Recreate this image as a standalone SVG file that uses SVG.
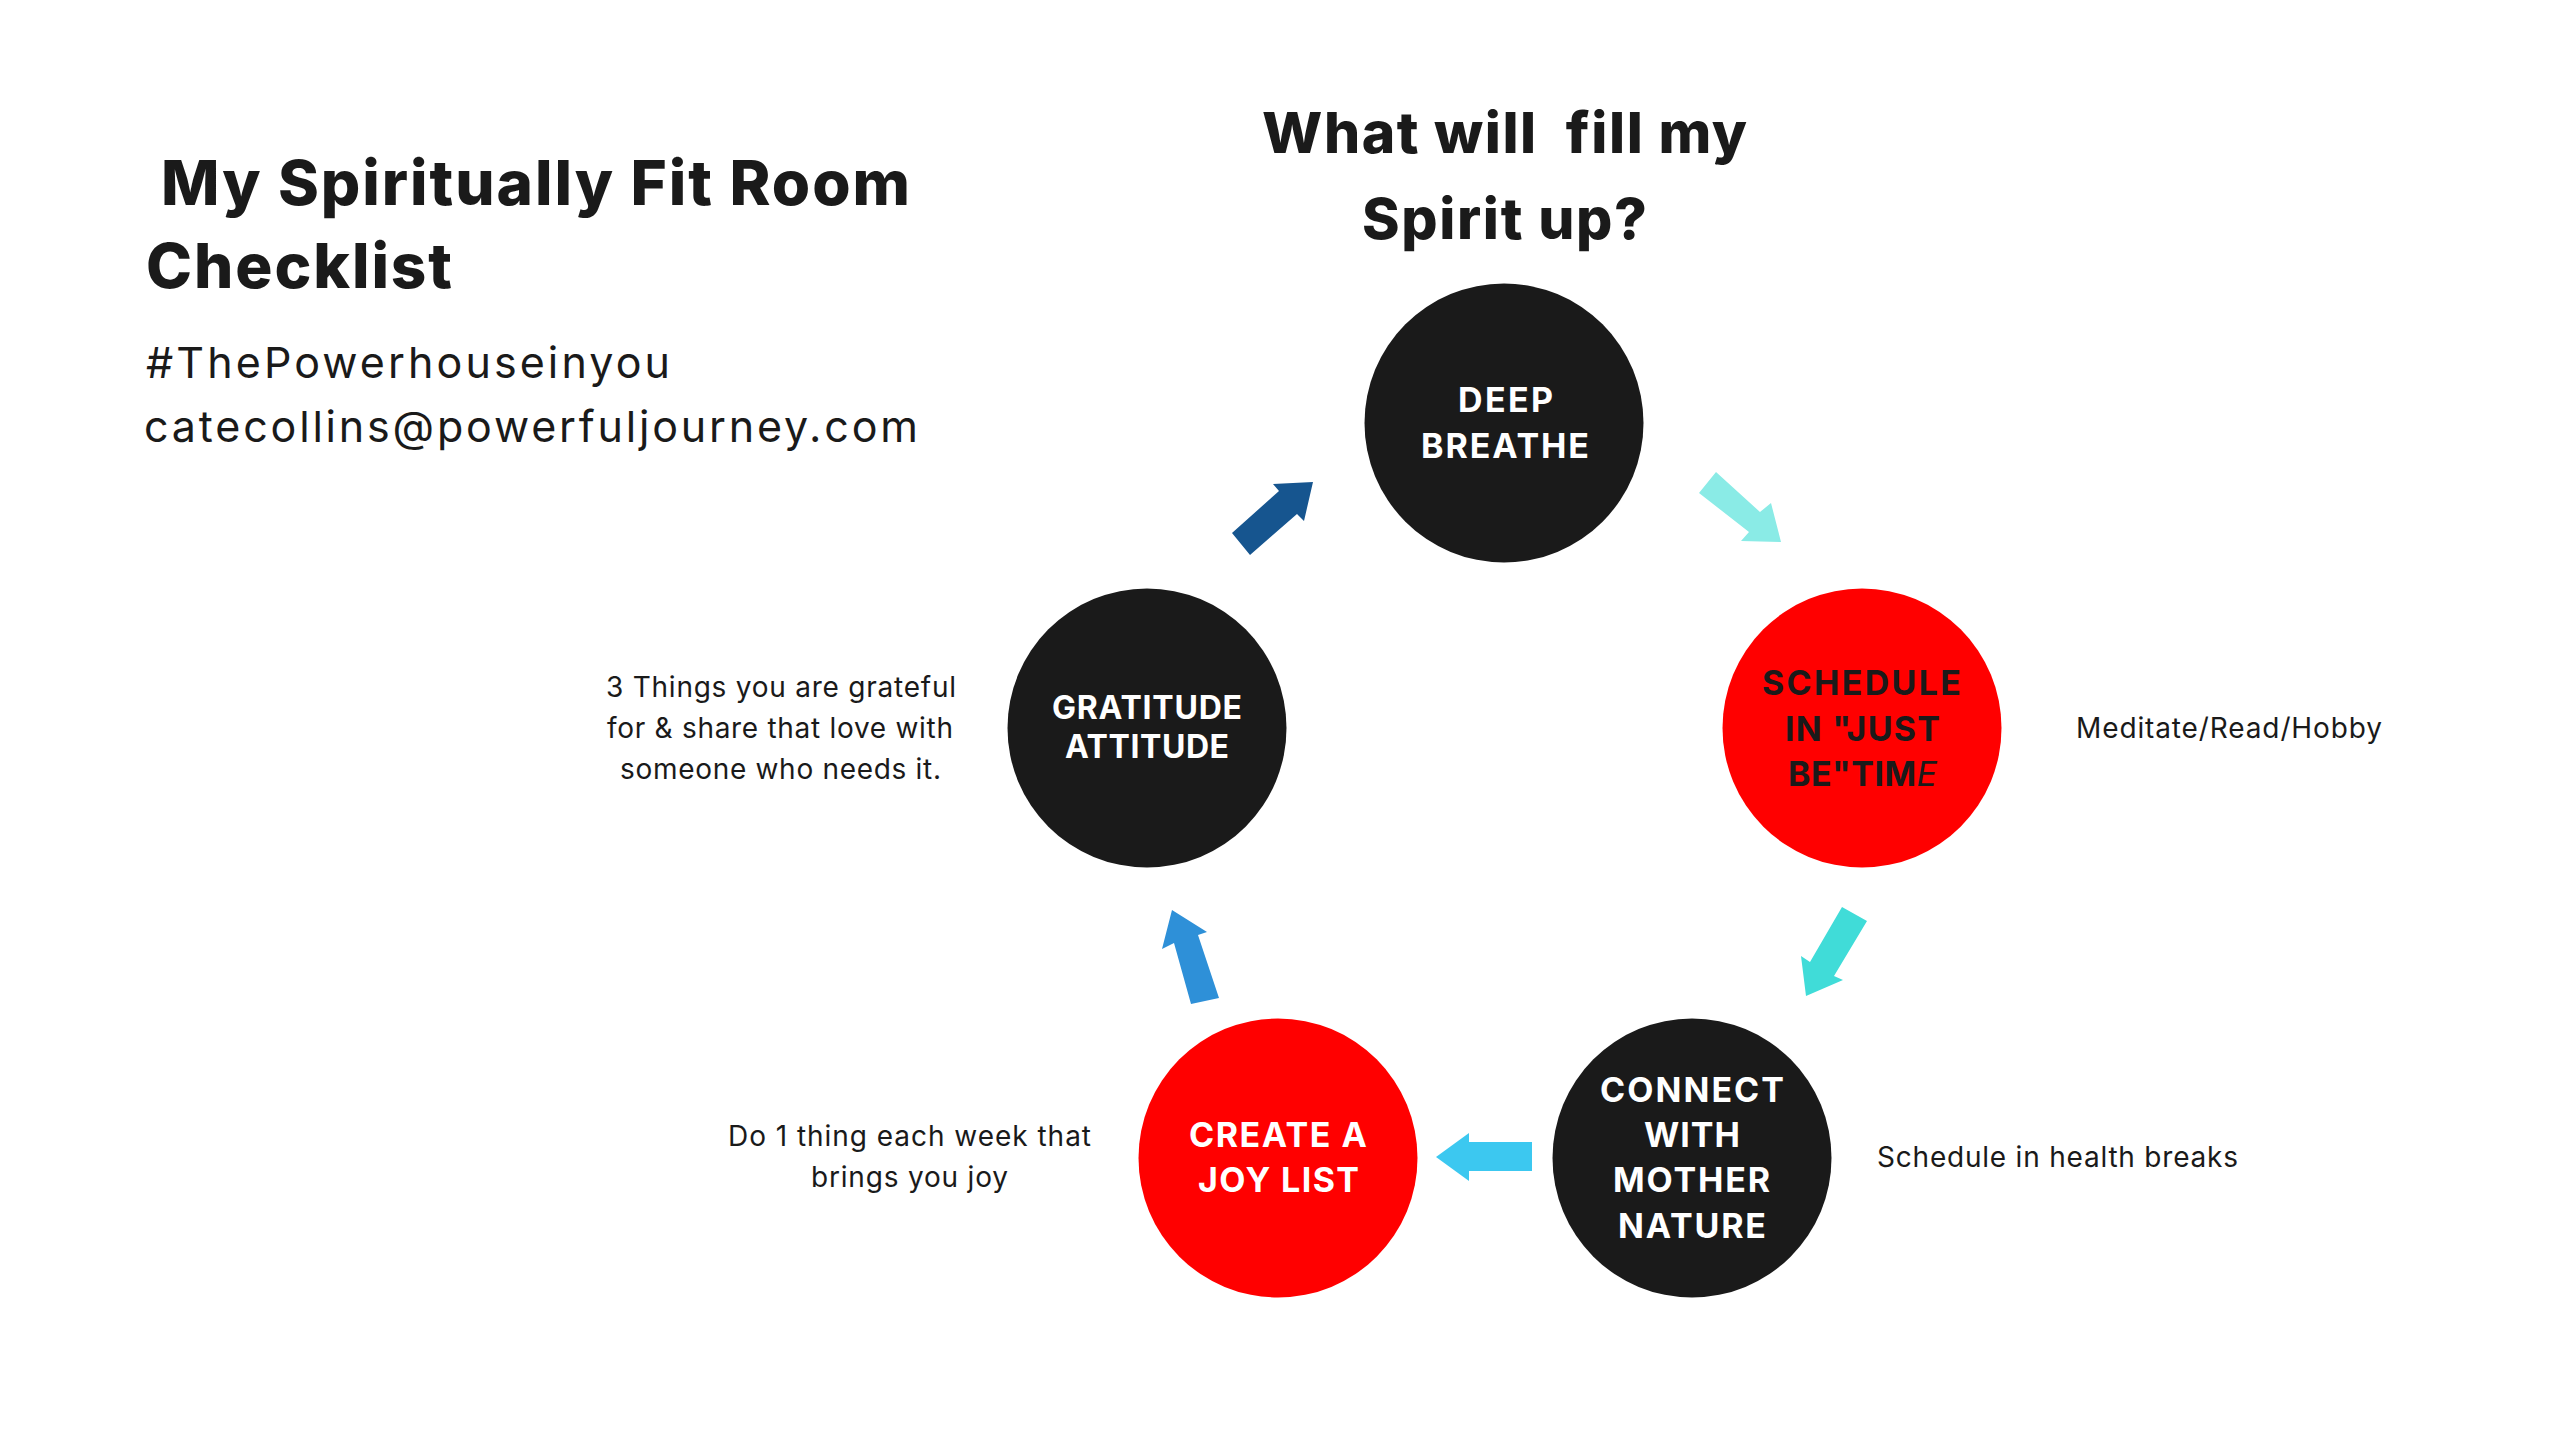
<svg xmlns="http://www.w3.org/2000/svg" width="2560" height="1440" viewBox="0 0 2560 1440">
<style>
text{font-family:Inter,"Liberation Sans",sans-serif;fill:#1a1a1a;white-space:pre}
.h{font-weight:800;font-size:62px}
.q{font-weight:800;font-size:57px}
.c{font-size:43px}
.n{font-weight:700;font-size:34px}
.g{font-size:32px}
.w{fill:#fff}
.s{font-size:28px}
.b{fill:#1a1a1a}.r{fill:#f00}
</style>
<rect width="2560" height="1440" fill="#fff"/>
<g id="title">
<text class="h" x="161" y="205" textLength="749">My Spiritually Fit Room</text>
<text class="h" x="146" y="288" textLength="306">Checklist</text>
<text class="c" x="146" y="378" textLength="524">#ThePowerhouseinyou</text>
<text class="c" x="144" y="442" textLength="774">catecollins@powerfuljourney.com</text>
</g>
<g id="question">
<text class="q" x="1262" y="153" textLength="485">What will  fill my</text>
<text class="q" x="1362" y="239" textLength="285">Spirit up?</text>
</g>
<g id="connectors">
<polygon fill="#8aebe6" points="1716,472 1760,512 1771,503 1781,542 1741,541 1749,532 1699,493"/>
<polygon fill="#40dcd8" points="1842,907 1867,921 1834,976 1843,980 1806,996 1801,956 1810,962"/>
<polygon fill="#3cc8f0" points="1436,1157 1469,1133 1469,1142 1532,1142 1532,1171 1469,1171 1469,1181"/>
<polygon fill="#2e90d8" points="1172,910 1207,932 1198,935 1219,998 1191,1004 1174,943 1162,949"/>
<polygon fill="#16558f" points="1232,533 1250,555 1297,514 1304,521 1313,482 1273,484 1279,491"/>
</g>
<g id="deep-breathe">
<circle class="b" cx="1504" cy="423" r="139.5"/>
<text class="n w" x="1458" y="412" textLength="95">DEEP</text>
<text class="n w" x="1421" y="458" textLength="168">BREATHE</text>
</g>
<g id="schedule">
<circle class="r" cx="1862" cy="728" r="139.5"/>
<text class="n" x="1762" y="695" textLength="199">SCHEDULE</text>
<text class="n" x="1785" y="741" textLength="155">IN "JUST</text>
<text class="n" x="1788" y="786" textLength="149">BE"TIM<tspan font-style="italic" font-weight="400">E</tspan></text>
</g>
<g id="connect">
<circle class="b" cx="1692" cy="1158" r="139.5"/>
<text class="n w" x="1600" y="1102" textLength="184">CONNECT</text>
<text class="n w" x="1644" y="1147" textLength="96">WITH</text>
<text class="n w" x="1613" y="1192" textLength="157">MOTHER</text>
<text class="n w" x="1618" y="1238" textLength="148">NATURE</text>
</g>
<g id="joy">
<circle class="r" cx="1278" cy="1158" r="139.5"/>
<text class="n w" x="1189" y="1147" textLength="178">CREATE A</text>
<text class="n w" x="1198" y="1192" textLength="161">JOY LIST</text>
</g>
<g id="gratitude">
<circle class="b" cx="1147" cy="728" r="139.5"/>
<text class="n g w" x="1052" y="719" textLength="190">GRATITUDE</text>
<text class="n g w" x="1065" y="758" textLength="164">ATTITUDE</text>
</g>
<g id="notes">
<text class="s" x="2076" y="738" textLength="306">Meditate/Read/Hobby</text>
<text class="s" x="1877" y="1167" textLength="361">Schedule in health breaks</text>
<text class="s" x="728" y="1146" textLength="363">Do 1 thing each week that</text>
<text class="s" x="811" y="1187" textLength="197">brings you joy</text>
<text class="s" x="606" y="697" textLength="350">3 Things you are grateful</text>
<text class="s" x="607" y="738" textLength="346">for &amp; share that love with</text>
<text class="s" x="620" y="779" textLength="321">someone who needs it.</text>
</g>
</svg>
